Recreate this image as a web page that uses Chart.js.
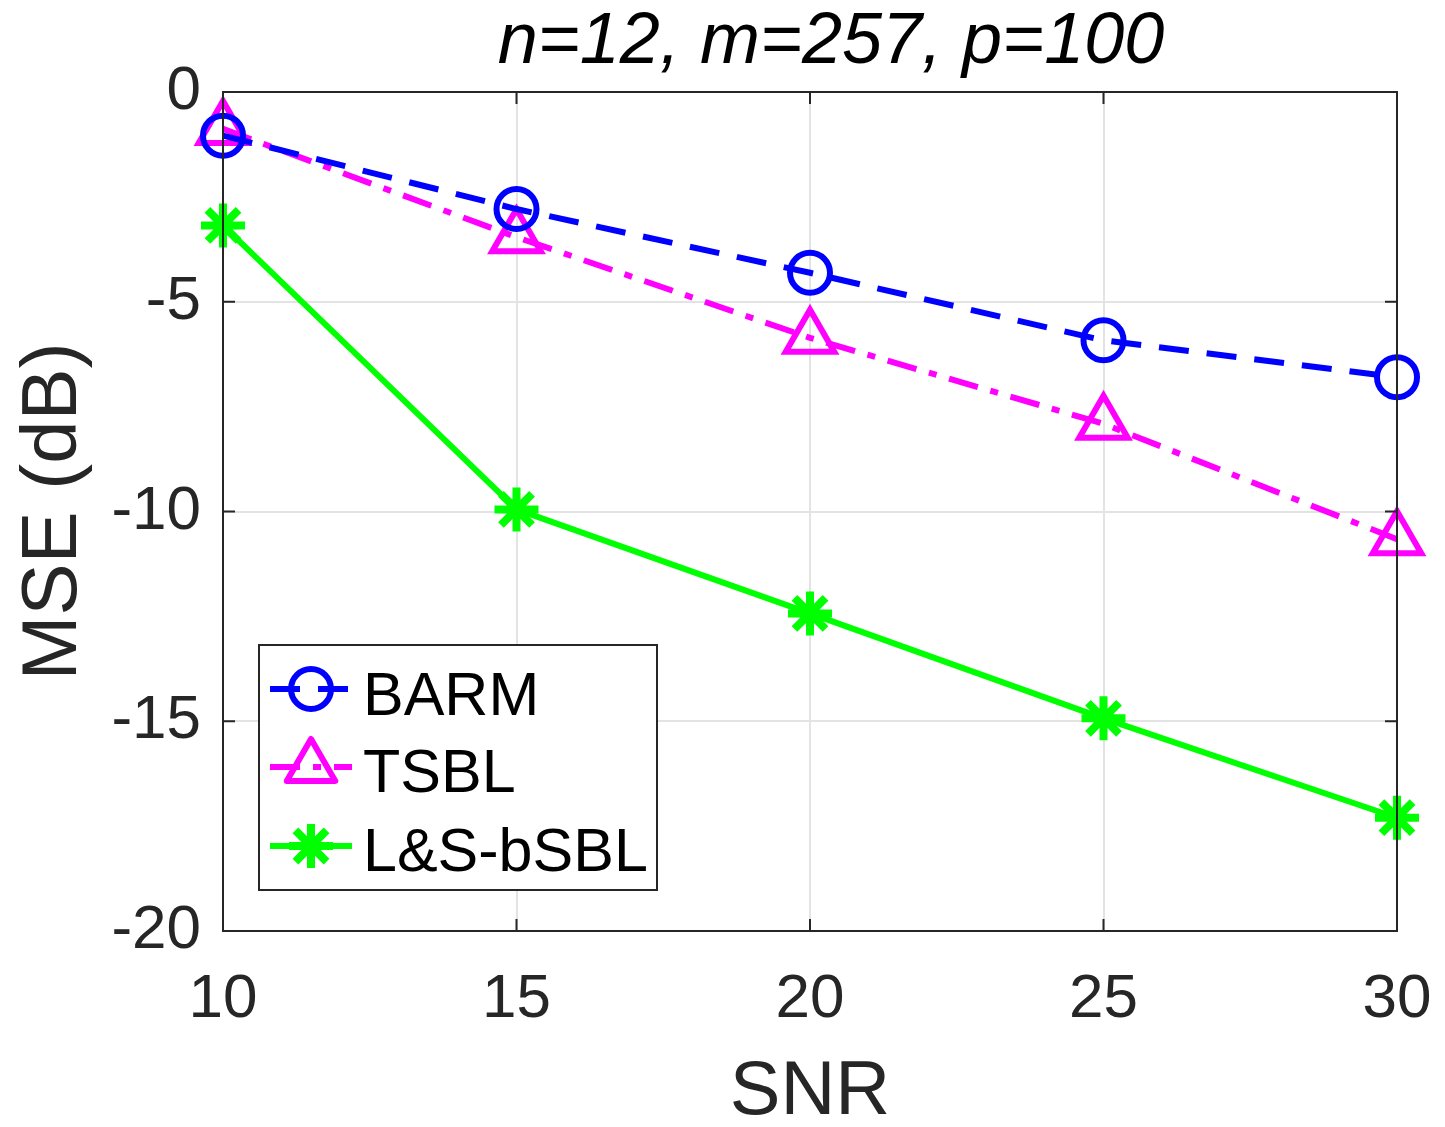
<!DOCTYPE html>
<html>
<head>
<meta charset="utf-8">
<script src="https://cdn.jsdelivr.net/npm/chart.js@4/dist/chart.umd.min.js"></script>
<style>
html,body{margin:0;padding:0;background:#fff;}
#wrap{width:1445px;height:1127px;position:relative;}
</style>
</head>
<body>
<div id="wrap"><canvas id="c" width="1445" height="1127"></canvas></div>
<script>
const snr = [10, 15, 20, 25, 30];
const barm = [-1.04, -2.79, -4.31, -5.92, -6.80];
const tsbl = [-0.88, -3.46, -5.86, -7.91, -10.66];
const lsbsbl = [-3.18, -9.95, -12.43, -14.93, -17.30];
const seriesNames = ['BARM', 'TSBL', 'L&S-bSBL'];
const xTickLabels = ['10', '15', '20', '25', '30'];
const yTickLabels = ['-20', '-15', '-10', '-5', '0'];
const titleText = 'n=12, m=257, p=100';
const xTitle = 'SNR';
const yTitle = 'MSE (dB)';

const FONT = '"Liberation Sans", Arial, Helvetica, sans-serif';
const AX = '#262626';

function pts(ys){ return snr.map((x,i)=>({x:x, y:ys[i]})); }

function drawMarker(ctx, style, x, y, r, color, lw){
  ctx.save();
  ctx.strokeStyle = color; ctx.lineWidth = lw; ctx.setLineDash([]);
  ctx.lineJoin = 'round'; ctx.lineCap = 'butt';
  ctx.beginPath();
  if (style === 'circle') {
    ctx.arc(x, y, r, 0, Math.PI*2);
  } else if (style === 'triangle') {
    ctx.moveTo(x, y - r);
    ctx.lineTo(x + Math.sin(Math.PI*2/3)*r, y + r/2);
    ctx.lineTo(x - Math.sin(Math.PI*2/3)*r, y + r/2);
    ctx.closePath();
  } else if (style === 'star') {
    for (let k=0;k<4;k++){
      const a = k*Math.PI/4;
      ctx.moveTo(x - Math.sin(a)*r, y - Math.cos(a)*r);
      ctx.lineTo(x + Math.sin(a)*r, y + Math.cos(a)*r);
    }
  }
  ctx.stroke();
  ctx.restore();
}

const boxPlugin = {
  id: 'boxPlugin',
  afterDatasetsDraw(chart){
    const ctx = chart.ctx, a = chart.chartArea;
    const xs = chart.scales.x, ys = chart.scales.y;
    ctx.save();
    ctx.strokeStyle = AX; ctx.lineWidth = 2; ctx.setLineDash([]);
    ctx.beginPath();
    ctx.rect(a.left, a.top, a.right - a.left, a.bottom - a.top);
    ctx.stroke();
    const tl = 12;
    ctx.beginPath();
    snr.forEach(v=>{
      const px = xs.getPixelForValue(v);
      ctx.moveTo(px, a.bottom); ctx.lineTo(px, a.bottom - tl);
      ctx.moveTo(px, a.top); ctx.lineTo(px, a.top + tl);
    });
    yTickLabels.forEach(t=>{
      const py = ys.getPixelForValue(parseFloat(t));
      ctx.moveTo(a.left, py); ctx.lineTo(a.left + tl, py);
      ctx.moveTo(a.right, py); ctx.lineTo(a.right - tl, py);
    });
    ctx.stroke();
    ctx.restore();
  },
  afterDraw(chart){
    const ctx = chart.ctx;
    ctx.save();
    ctx.fillStyle = '#000';
    ctx.font = 'italic 72px ' + FONT;
    ctx.textAlign = 'center'; ctx.textBaseline = 'alphabetic';
    ctx.fillText(titleText, 831, 63);
    const L = 259, T = 645, R = 657, B = 890;
    ctx.fillStyle = '#fff';
    ctx.fillRect(L, T, R-L, B-T);
    ctx.strokeStyle = AX; ctx.lineWidth = 2;
    ctx.strokeRect(L, T, R-L, B-T);
    const rows = [689, 767, 846];
    const base = [715, 792, 871];
    chart.data.datasets.forEach((ds, i)=>{
      const y = rows[i];
      ctx.save();
      ctx.strokeStyle = ds.borderColor; ctx.lineWidth = ds.borderWidth;
      ctx.setLineDash(ds.borderDash || []);
      ctx.beginPath(); ctx.moveTo(270, y); ctx.lineTo(352, y); ctx.stroke();
      ctx.restore();
      drawMarker(ctx, ds.pointStyle, 311, y, ds.pointRadius, ds.borderColor, ds.pointBorderWidth);
      ctx.fillStyle = '#000';
      ctx.font = '61px ' + FONT;
      ctx.textAlign = 'left'; ctx.textBaseline = 'alphabetic';
      ctx.fillText(ds.label, 363, base[i]);
    });
    ctx.restore();
  }
};

new Chart(document.getElementById('c'), {
  type: 'line',
  data: {
    datasets: [
      { label: seriesNames[0], data: pts(barm), borderColor: '#0000ff', backgroundColor: 'rgba(0,0,0,0)',
        borderWidth: 6, borderDash: [30, 18], pointStyle: 'circle', pointRadius: 20, pointBorderWidth: 6,
        pointBackgroundColor: 'rgba(0,0,0,0)', tension: 0, clip: false },
      { label: seriesNames[1], data: pts(tsbl), borderColor: '#ff00ff', backgroundColor: 'rgba(0,0,0,0)',
        borderWidth: 6, borderDash: [30, 13, 8, 13], pointStyle: 'triangle', pointRadius: 28, pointBorderWidth: 6,
        pointBackgroundColor: 'rgba(0,0,0,0)', tension: 0, clip: false },
      { label: seriesNames[2], data: pts(lsbsbl), borderColor: '#00ff00', backgroundColor: 'rgba(0,0,0,0)',
        borderWidth: 6, pointStyle: 'star', pointRadius: 22, pointBorderWidth: 8,
        pointBackgroundColor: 'rgba(0,0,0,0)', tension: 0, clip: false }
    ]
  },
  options: {
    responsive: false, animation: false, devicePixelRatio: 1,
    layout: { padding: { left: 0, top: 92, right: 48, bottom: 0 } },
    plugins: { legend: { display: false }, title: { display: false }, tooltip: { enabled: false } },
    elements: { line: { borderCapStyle: 'butt', borderJoinStyle: 'round' } },
    scales: {
      x: {
        type: 'linear', min: 10, max: 30,
        afterFit(s){ s.height = 196; s.paddingLeft = 0; s.paddingRight = 0; },
        afterBuildTicks(s){ s.ticks = snr.map(v=>({value:v})); },
        ticks: { color: AX, font: { family: FONT, size: 62 }, padding: 32, maxRotation: 0,
                 callback: (v)=>{ const i = snr.indexOf(v); return i>=0 ? xTickLabels[i] : ''; } },
        grid: { color: '#e3e3e3', lineWidth: 2, drawTicks: false },
        border: { display: false },
        title: { display: true, text: xTitle, color: AX, font: { family: FONT, size: 76, lineHeight: 0.9 }, padding: { top: 0, bottom: 0 } }
      },
      y: {
        type: 'linear', min: -20, max: 0,
        afterFit(s){ s.width = 223; s.paddingTop = 0; s.paddingBottom = 0; },
        afterBuildTicks(s){ s.ticks = yTickLabels.map(t=>({value:parseFloat(t)})); },
        ticks: { color: AX, font: { family: FONT, size: 62 }, padding: 22,
                 callback: (v)=>{ const i = yTickLabels.map(parseFloat).indexOf(v); return i>=0 ? yTickLabels[i] : ''; } },
        grid: { color: '#e3e3e3', lineWidth: 2, drawTicks: false },
        border: { display: false },
        title: { display: true, text: yTitle, color: AX, font: { family: FONT, size: 78 }, padding: { top: 8, bottom: 0 } }
      }
    }
  },
  plugins: [boxPlugin]
});
</script>
</body>
</html>
